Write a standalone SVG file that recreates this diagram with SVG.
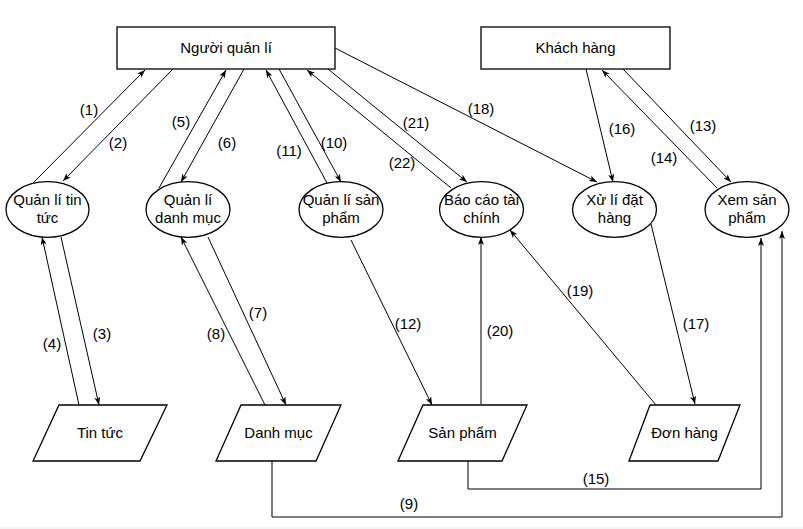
<svg xmlns="http://www.w3.org/2000/svg" width="803" height="529" viewBox="0 0 803 529">
<defs>
<marker id="arr" viewBox="0 0 8 6" refX="8" refY="3" markerWidth="8" markerHeight="6" orient="auto" markerUnits="userSpaceOnUse">
<path d="M0,0 L8,3 L0,6 L2,3 Z" fill="#000"/>
</marker>
</defs>
<style>
text{font-family:"Liberation Sans",Arial,sans-serif;font-size:15px;fill:#000;text-anchor:middle}
.box{fill:#fff;stroke:#000;stroke-width:1.3}
.c path{fill:none;stroke:#000;stroke-width:1}
.c path.a{marker-end:url(#arr)}
</style>
<rect width="803" height="529" fill="#fff"/>
<rect x="0" y="527" width="803" height="2" fill="#f3f3f3"/>

<g id="connectors" class="c">
<path class="a" d="M33,183 L145,70"/>
<path class="a" d="M173,69 L63,181"/>
<path class="a" d="M159,188 L226,70"/>
<path class="a" d="M244,69 L181,182"/>
<path class="a" d="M327,183 L266,70"/>
<path class="a" d="M279,69 L341,182"/>
<path class="a" d="M451,188 L307,70"/>
<path class="a" d="M328,69 L467,182"/>
<path class="a" d="M335,48 L597,182"/>
<path class="a" d="M586,69 L613,182"/>
<path class="a" d="M717,188 L602,70"/>
<path class="a" d="M623,69 L731,182"/>
<path class="a" d="M79,405 L42,237"/>
<path class="a" d="M61,237 L99,405"/>
<path class="a" d="M265,405 L181,237"/>
<path class="a" d="M208,237 L286,405"/>
<path class="a" d="M351,240 L432,405"/>
<path class="a" d="M481,404 L481,237"/>
<path class="a" d="M656,405 L510,230"/>
<path class="a" d="M651,224 L695,404"/>
<path class="a" d="M468,461 L468,489 L761,489 L761,238"/>
<path class="a" d="M272,461 L272,517 L782,517 L782,231"/>
</g>

<g id="labels">
<text x="89" y="115">(1)</text>
<text x="118" y="148">(2)</text>
<text x="102" y="339">(3)</text>
<text x="52" y="349">(4)</text>
<text x="181" y="127">(5)</text>
<text x="227" y="148">(6)</text>
<text x="258" y="318">(7)</text>
<text x="216" y="339">(8)</text>
<text x="409" y="509">(9)</text>
<text x="334" y="148">(10)</text>
<text x="289" y="156">(11)</text>
<text x="408" y="329">(12)</text>
<text x="703" y="131">(13)</text>
<text x="664" y="163">(14)</text>
<text x="596" y="484">(15)</text>
<text x="622" y="134">(16)</text>
<text x="696" y="329">(17)</text>
<text x="481" y="114">(18)</text>
<text x="580" y="296">(19)</text>
<text x="500" y="336">(20)</text>
<text x="416" y="128">(21)</text>
<text x="402" y="168">(22)</text>
</g>

<g id="nguoi-quan-li">
<rect class="box" x="117" y="27" width="218" height="42"/>
<text x="226" y="53">Người quản lí</text>
</g>
<g id="khach-hang">
<rect class="box" x="481" y="27" width="189" height="42"/>
<text x="575.5" y="53">Khách hàng</text>
</g>

<g id="ql-tin-tuc">
<ellipse class="box" cx="47.5" cy="209.5" rx="41.5" ry="27.8"/>
<text x="47.5" y="205">Quản lí tin</text>
<text x="47.5" y="223">tức</text>
</g>
<g id="ql-danh-muc">
<ellipse class="box" cx="188" cy="209.5" rx="42" ry="27.8"/>
<text x="188" y="205">Quản lí</text>
<text x="188" y="223">danh mục</text>
</g>
<g id="ql-san-pham">
<ellipse class="box" cx="341" cy="209.5" rx="42" ry="27.8"/>
<text x="341" y="205">Quản lí sản</text>
<text x="341" y="223">phẩm</text>
</g>
<g id="bao-cao">
<ellipse class="box" cx="481.5" cy="209.5" rx="42" ry="27.8"/>
<text x="481.5" y="205">Báo cáo tài</text>
<text x="481.5" y="223">chính</text>
</g>
<g id="xu-li-dat-hang">
<ellipse class="box" cx="614.5" cy="209.5" rx="42" ry="27.8"/>
<text x="614.5" y="205">Xử lí đặt</text>
<text x="614.5" y="223">hàng</text>
</g>
<g id="xem-san-pham">
<ellipse class="box" cx="747" cy="209.5" rx="42" ry="27.8"/>
<text x="747" y="205">Xem sản</text>
<text x="747" y="223">phẩm</text>
</g>

<g id="tin-tuc">
<polygon class="box" points="59,405 167,405 140,461 33,461"/>
<text x="100" y="438">Tin tức</text>
</g>
<g id="danh-muc">
<polygon class="box" points="241,405 341,405 316,461 216,461"/>
<text x="278.5" y="438">Danh mục</text>
</g>
<g id="san-pham">
<polygon class="box" points="423,405 527,405 502,461 398,461"/>
<text x="462.5" y="438">Sản phẩm</text>
</g>
<g id="don-hang">
<polygon class="box" points="650,405 740,405 718,461 629,461"/>
<text x="684.5" y="438">Đơn hàng</text>
</g>
</svg>
